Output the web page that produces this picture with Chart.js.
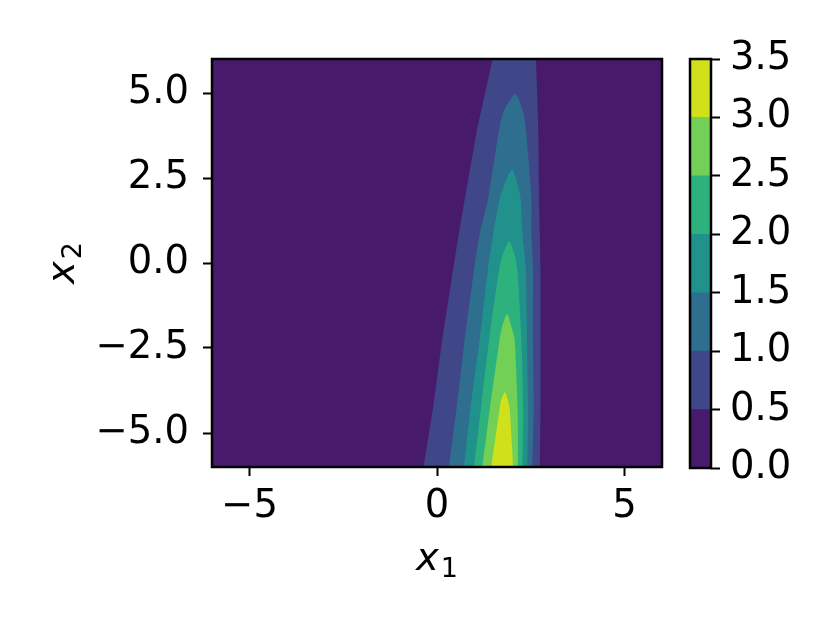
<!DOCTYPE html>
<html>
<head>
<meta charset="utf-8">
<script src="https://cdn.jsdelivr.net/npm/chart.js@4.4.1/dist/chart.umd.min.js"></script>
<style>
body { margin: 0; background: #fff; }
#wrap { position: relative; width: 830px; height: 623px; }
#main { position: absolute; left: 0; top: 0; width: 830px; height: 623px; }
#cbar { position: absolute; left: 680px; top: 0; width: 150px; height: 623px; }
</style>
</head>
<body>
<div id="wrap">
  <div id="main"><canvas id="chart1"></canvas></div>
  <div id="cbar"><canvas id="chart2"></canvas></div>
</div>
<script>
// contour levels and band colours (viridis, 7 bands)
const levels = [0, 0.5, 1.0, 1.5, 2.0, 2.5, 3.0, 3.5];
const bandColors = ['#481a6c', '#3f4788', '#2e6e8e', '#21918c', '#2db27d', '#73d056', '#d0e11c'];

// axis ticks
const xTicks = [-5, 0, 5];
const yTicks = [-5, -2.5, 0, 2.5, 5];

// edges of each filled level
// rows of x2 (top first), left edge x1, right edge x1 (first row = tip when left == right)
const lev05Y = [6, 3.94, 1.88, 0.85, -0.18, -2.24, -4.29, -6];
const lev05L = [1.48, 1.07, 0.74, 0.58, 0.43, 0.14, -0.11, -0.36];
const lev05R = [2.64, 2.70, 2.72, 2.74, 2.76, 2.76, 2.76, 2.74];

const lev10Y = [4.97, 4.47, 3.94, 1.88, 0.85, -0.18, -2.24, -4.29, -6];
const lev10L = [2.09, 1.78, 1.66, 1.36, 1.14, 0.99, 0.74, 0.52, 0.32];
const lev10R = [2.09, 2.29, 2.37, 2.52, 2.52, 2.56, 2.56, 2.58, 2.54];

const lev15Y = [2.76, 2.32, 1.88, 0.85, -0.18, -2.24, -4.29, -6];
const lev15L = [2.00, 1.80, 1.67, 1.50, 1.36, 1.14, 0.89, 0.72];
const lev15R = [2.00, 2.15, 2.23, 2.28, 2.37, 2.40, 2.43, 2.41];

const lev20Y = [0.65, 0.24, -0.18, -2.24, -4.29, -6];
const lev20L = [1.92, 1.75, 1.66, 1.39, 1.17, 0.99];
const lev20R = [1.92, 2.07, 2.14, 2.25, 2.30, 2.28];

const lev25Y = [-1.50, -1.85, -2.24, -4.29, -6];
const lev25L = [1.87, 1.74, 1.67, 1.41, 1.21];
const lev25R = [1.87, 1.98, 2.07, 2.15, 2.16];

const lev30Y = [-3.80, -4.03, -4.29, -6];
const lev30L = [1.81, 1.71, 1.67, 1.45];
const lev30R = [1.81, 1.89, 1.94, 2.03];

const levelEdges = [
    [lev05Y, lev05L, lev05R],
    [lev10Y, lev10L, lev10R],
    [lev15Y, lev15L, lev15R],
    [lev20Y, lev20L, lev20R],
    [lev25Y, lev25L, lev25R],
    [lev30Y, lev30L, lev30R]
];

// closed outline: up the left edge, down the right edge
function outline(ys, ls, rs) {
    const pts = [];
    for (let i = ys.length - 1; i >= 0; i--) pts.push({x: ls[i], y: ys[i]});
    const start = ls[0] === rs[0] ? 1 : 0;
    for (let i = start; i < ys.length; i++) pts.push({x: rs[i], y: ys[i]});
    return pts;
}

function fmtNum(v, digits) {
    const s = Math.abs(v).toFixed(digits);
    return v < 0 ? '\u2212' + s : s;
}

const FS = 38.5;
const tickFont = {family: 'DejaVu Sans', size: FS};

const framePlugin = {
    id: 'frame',
    beforeDatasetsDraw(chart, args, opts) {
        if (!opts.bg) return;
        const {ctx, chartArea: a} = chart;
        ctx.save();
        ctx.fillStyle = opts.bg;
        ctx.fillRect(a.left, a.top, a.right - a.left, a.bottom - a.top);
        ctx.restore();
    },
    afterDraw(chart) {
        const {ctx, chartArea: a} = chart;
        ctx.save();
        ctx.strokeStyle = '#000';
        ctx.lineWidth = 2.5;
        ctx.strokeRect(a.left, a.top, a.right - a.left, a.bottom - a.top);
        ctx.restore();
    }
};

// axis titles like mathtext: italic x with an upright subscript
function drawSub(ctx, main, sub, cx, cy) {
    ctx.font = 'italic ' + FS + 'px "DejaVu Sans"';
    const wm = ctx.measureText(main).width;
    ctx.font = '27px "DejaVu Sans"';
    const ws = ctx.measureText(sub).width;
    const x0 = cx - (wm + ws + 2) / 2;
    ctx.fillStyle = '#000';
    ctx.textBaseline = 'alphabetic';
    ctx.textAlign = 'left';
    ctx.font = 'italic ' + FS + 'px "DejaVu Sans"';
    ctx.fillText(main, x0, cy);
    ctx.font = '27px "DejaVu Sans"';
    ctx.fillText(sub, x0 + wm + 2, cy + 7);
}

const axisTitles = {
    id: 'axisTitles',
    afterDraw(chart) {
        const {ctx, chartArea: a} = chart;
        ctx.save();
        drawSub(ctx, 'x', '1', (a.left + a.right) / 2, a.bottom + 103);
        ctx.translate(a.left - 138, (a.top + a.bottom) / 2);
        ctx.rotate(-Math.PI / 2);
        drawSub(ctx, 'x', '2', 0, 0);
        ctx.restore();
    }
};

const tickGrid = {display: true, drawOnChartArea: false, drawTicks: true, tickLength: 9, tickWidth: 2, tickColor: '#000'};

// main contour plot
const ctx = document.getElementById('chart1').getContext('2d');
const mainChart = new Chart(ctx, {
    type: 'scatter',
    data: {
        datasets: levelEdges.map((e, i) => ({
            data: outline(e[0], e[1], e[2]),
            showLine: true,
            fill: 'shape',
            backgroundColor: bandColors[i + 1],
            borderWidth: 0,
            pointRadius: 0,
            tension: i === 0 ? 0 : 0.2,
            order: 10 - i
        }))
    },
    options: {
        responsive: true,
        maintainAspectRatio: false,
        animation: false,
        layout: {padding: {left: 0, top: 59, right: 168, bottom: 0}},
        plugins: {
            legend: {display: false},
            tooltip: {enabled: false},
            frame: {bg: bandColors[0]}
        },
        scales: {
            x: {
                type: 'linear', min: -6, max: 6,
                afterBuildTicks: s => { s.ticks = xTicks.map(v => ({value: v})); },
                afterFit: s => { s.height = 156; },
                grid: tickGrid,
                border: {display: false},
                ticks: {color: '#000', font: tickFont, padding: 8, maxRotation: 0, callback: v => fmtNum(v, 0)}
            },
            y: {
                type: 'linear', min: -6, max: 6,
                afterBuildTicks: s => { s.ticks = yTicks.map(v => ({value: v})); },
                afterFit: s => { s.width = 212; },
                grid: tickGrid,
                border: {display: false},
                ticks: {color: '#000', font: tickFont, padding: 14, callback: v => fmtNum(v, 1)}
            }
        }
    },
    plugins: [framePlugin, axisTitles]
});

// colour bar
const ctx2 = document.getElementById('chart2').getContext('2d');
const barChart = new Chart(ctx2, {
    type: 'bar',
    data: {
        labels: [''],
        datasets: bandColors.map((c, i) => ({
            data: [levels[i + 1] - levels[i]],
            backgroundColor: c,
            borderWidth: 0,
            barPercentage: 1,
            categoryPercentage: 1
        }))
    },
    options: {
        responsive: true,
        maintainAspectRatio: false,
        animation: false,
        layout: {padding: {left: 10, top: 59, right: 0, bottom: 155}},
        plugins: {legend: {display: false}, tooltip: {enabled: false}},
        scales: {
            x: {display: false, stacked: true},
            y: {
                stacked: true, position: 'right', min: 0, max: 3.5,
                afterBuildTicks: s => { s.ticks = levels.map(v => ({value: v})); },
                afterFit: s => { s.width = 119; },
                grid: tickGrid,
                border: {display: false},
                ticks: {color: '#000', font: tickFont, padding: 10, callback: v => fmtNum(v, 1)}
            }
        }
    },
    plugins: [framePlugin]
});
</script>
</body>
</html>
